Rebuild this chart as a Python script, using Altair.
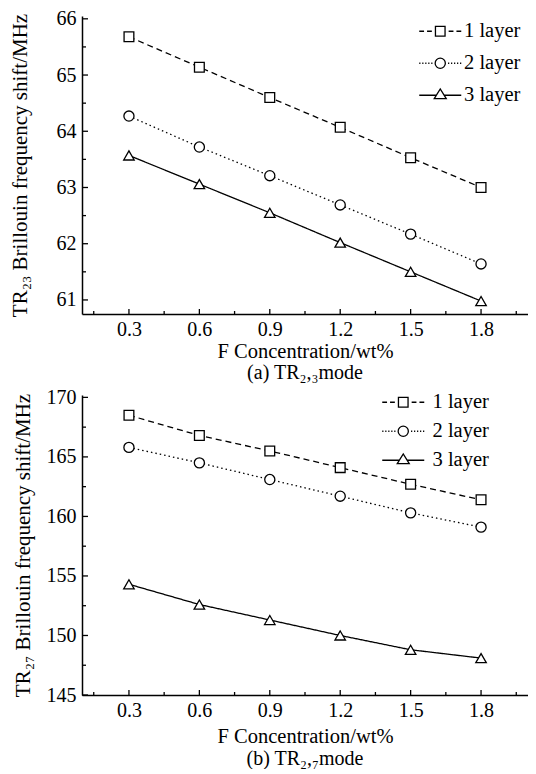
import altair as alt
import pandas as pd

FONT = "Liberation Serif"

conc = [0.3, 0.6, 0.9, 1.2, 1.5, 1.8]
series = ["1 layer", "2 layer", "3 layer"]

tr23_1 = [65.68, 65.14, 64.60, 64.07, 63.53, 63.00]
tr23_2 = [64.27, 63.72, 63.21, 62.69, 62.17, 61.64]
tr23_3 = [63.57, 63.06, 62.55, 62.02, 61.50, 60.98]

tr27_1 = [168.5, 166.8, 165.5, 164.1, 162.7, 161.4]
tr27_2 = [165.8, 164.5, 163.1, 161.7, 160.3, 159.1]
tr27_3 = [154.3, 152.6, 151.3, 150.0, 148.8, 148.1]

x_major = [0.3, 0.6, 0.9, 1.2, 1.5, 1.8]
x_minor = [0.15, 0.45, 0.75, 1.05, 1.35, 1.65, 1.95]
y23_major = [61, 62, 63, 64, 65, 66]
y23_minor = [61.5, 62.5, 63.5, 64.5, 65.5]
y27_major = [145, 150, 155, 160, 165, 170]
y27_minor = [147.5, 152.5, 157.5, 162.5, 167.5]

W = 446

# legend symbols: a line segment plus the marker, drawn as one custom path
leg_paths = [
    "M-3.5,0H-2.7M-2.2,0H-1.4M-0.8,-0.8H0.8V0.8H-0.8ZM1.4,0H2.2M2.7,0H3.5",
    "M-3.5,0H-3.3M-3.0,0H-2.8M-2.5,0H-2.3M-2.0,0H-1.8M-1.5,0H-1.3"
    "M-0.85,0A0.85,0.85 0 1,0 0.85,0A0.85,0.85 0 1,0 -0.85,0"
    "M1.3,0H1.5M1.8,0H2.0M2.3,0H2.5M2.8,0H3.0M3.3,0H3.5",
    "M-3.5,0H-0.62M0.62,0H3.5M-1,0.55L0,-1.05L1,0.55Z",
]


def panel(v1, v2, v3, ydom, H, ymaj, ymin, ytitle, ytitlepad, xtitlepad, caption,
          capoff, lx, ly, rowpad, loff):
    df = pd.DataFrame({
        "x": conc * 3,
        "y": v1 + v2 + v3,
        "s": [series[0]] * 6 + [series[1]] * 6 + [series[2]] * 6,
    })
    xs = alt.Scale(domain=[0.1, 2.0], nice=False, zero=False)
    ys = alt.Scale(domain=ydom, nice=False, zero=False)
    base = alt.Chart(df)

    lines = base.mark_line(color="black", strokeWidth=1.3).encode(
        x=alt.X("x:Q", scale=xs, axis=alt.Axis(
            values=x_major, format=".1f", title="F Concentration/wt%",
            ticks=False, grid=False, labelPadding=5, titlePadding=xtitlepad,
            titleFontSize=20.5)),
        y=alt.Y("y:Q", scale=ys, axis=alt.Axis(
            values=ymaj, format="d", title=ytitle, ticks=False, grid=False,
            labelPadding=6, titlePadding=ytitlepad, titleFontSize=21)),
        strokeDash=alt.StrokeDash("s:N", scale=alt.Scale(
            domain=series, range=[[6, 4], [1.5, 3], [1, 0]]), legend=None),
        detail="s:N",
    )
    pts = base.mark_point(filled=True, fill="white", stroke="black",
                          strokeWidth=1.3, opacity=1).encode(
        x=alt.X("x:Q", scale=xs),
        y=alt.Y("y:Q", scale=ys),
        shape=alt.Shape("s:N", scale=alt.Scale(
            domain=series, range=["square", "circle", "triangle-up"]), legend=None),
        size=alt.Size("s:N", scale=alt.Scale(domain=series, range=[95, 110, 160]),
                      legend=None),
    )
    # legend-only layer: its points sit outside the clipped plot area
    leg = base.mark_point(
        filled=False, color="black", strokeWidth=1.3, opacity=1,
        clip=True, size=144
    ).encode(
        x=alt.value(-60), y=alt.value(-60),
        shape=alt.Shape("s:N", scale=alt.Scale(domain=series, range=leg_paths),
                        legend=alt.Legend(
                            title=None, orient="none", legendX=lx, legendY=ly,
                            symbolSize=144, labelFont=FONT, labelFontSize=20.5,
                            labelColor="black", labelOffset=loff, rowPadding=rowpad,
                            symbolStrokeColor="black",
                            symbolStrokeWidth=1.3, symbolOpacity=1, padding=0)),
    )
    xt1 = alt.Chart(pd.DataFrame({"x": x_major})).mark_rule(
        color="black", strokeWidth=1.3).encode(
        x=alt.X("x:Q", scale=xs), y=alt.value(H), y2=alt.value(H - 5))
    xt2 = alt.Chart(pd.DataFrame({"x": x_minor})).mark_rule(
        color="black", strokeWidth=1.3).encode(
        x=alt.X("x:Q", scale=xs), y=alt.value(H), y2=alt.value(H - 3))
    yt1 = alt.Chart(pd.DataFrame({"y": ymaj})).mark_rule(
        color="black", strokeWidth=1.3).encode(
        y=alt.Y("y:Q", scale=ys), x=alt.value(0), x2=alt.value(6))
    yt2 = alt.Chart(pd.DataFrame({"y": ymin})).mark_rule(
        color="black", strokeWidth=1.3).encode(
        y=alt.Y("y:Q", scale=ys), x=alt.value(0), x2=alt.value(4))

    return alt.layer(lines, pts, leg, xt1, xt2, yt1, yt2).resolve_scale(
        shape="independent", size="independent"
    ).properties(
        width=W, height=H,
        title=alt.Title(caption, orient="bottom", font=FONT, fontSize=20,
                        fontWeight="normal", color="black", offset=capoff,
                        anchor="middle"),
    )


top = panel(tr23_1, tr23_2, tr23_3, [60.75, 66.05], 298, y23_major, y23_minor,
            "TR\u2082\u2083 Brillouin frequency shift/MHz", 26, 2,
            "(a) TR\u2082,\u2083mode", 1, 348, 5, 11, 13.5)
bot = panel(tr27_1, tr27_2, tr27_3, [145, 170.2], 300, y27_major, y27_minor,
            "TR\u2082\u2087 Brillouin frequency shift/MHz", 13, 6,
            "(b) TR\u2082,\u2087mode", 2, 311, -3, 8, 19)

chart = alt.vconcat(top, bot, spacing=4).properties(
    background="white", padding=0
).configure(font=FONT).configure_view(
    strokeWidth=0, stroke="transparent").configure_axis(
    domainColor="black", domainWidth=1.5, labelFont=FONT, labelFontSize=20,
    labelColor="black", titleFont=FONT, titleFontSize=20.5, titleFontWeight="normal",
    titleColor="black",
)

chart.save("out.html", embed_options={"renderer": "svg", "actions": False})
